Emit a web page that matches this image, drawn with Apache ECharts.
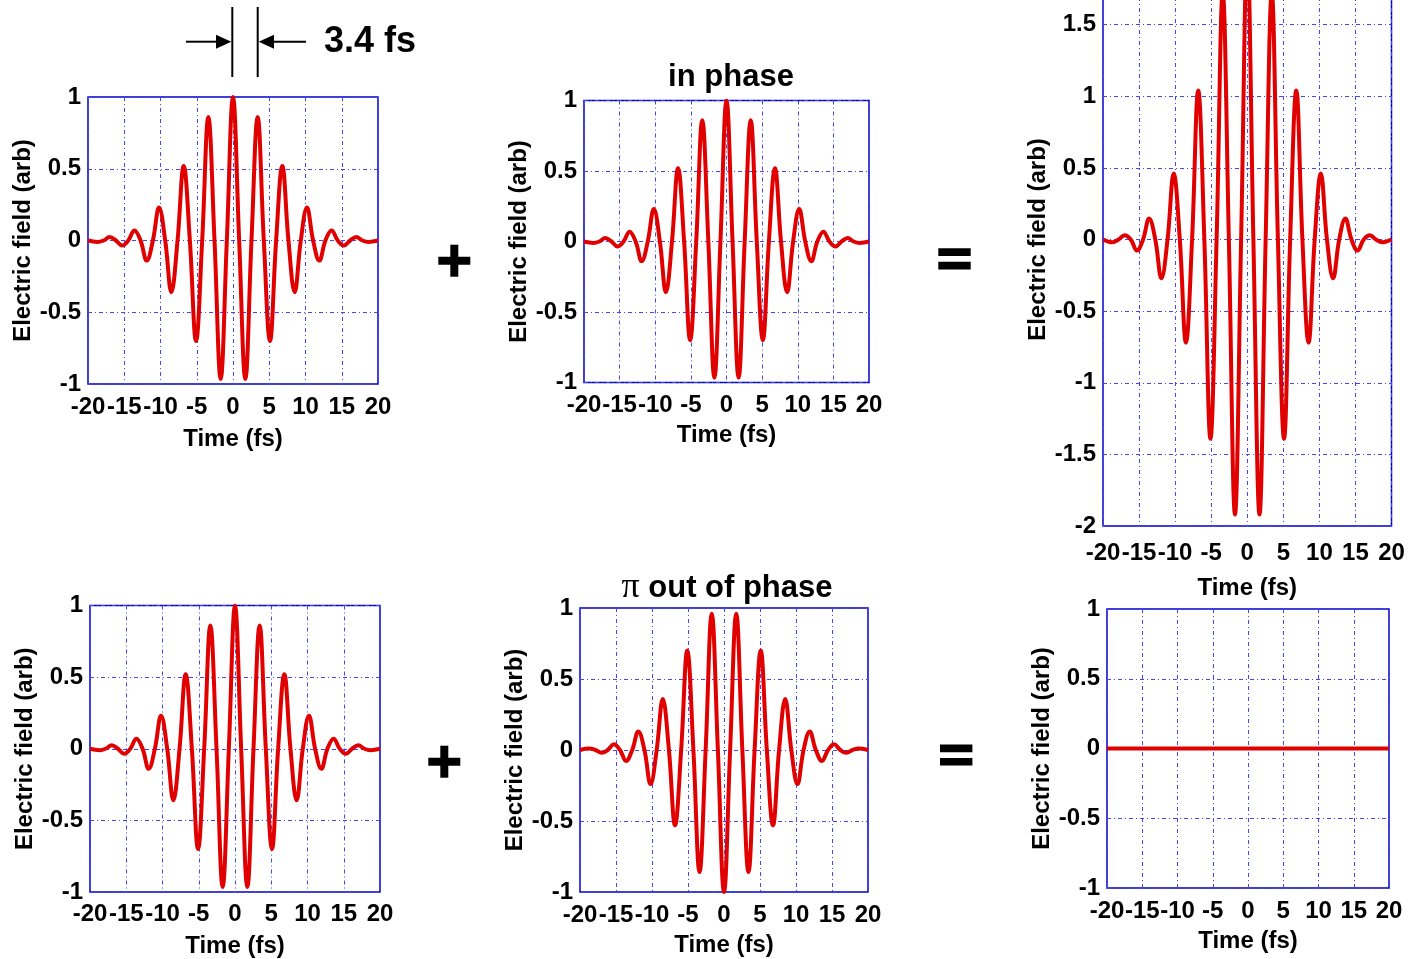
<!DOCTYPE html>
<html>
<head>
  <meta charset="utf-8">
  <title>Pulse interference</title>
  <script src="https://cdn.jsdelivr.net/npm/echarts/dist/echarts.min.js"></script>
  <style>
    html, body { margin: 0; padding: 0; background: #fff; overflow: hidden; }
    /* the top right panel runs above the page, so the canvas starts above it */
    #chart { position: absolute; left: 0; top: -60px; width: 1410px; height: 1019px; }
  </style>
</head>
<body>
<div id="chart"></div>
<script>
  // time samples (fs): extrema and zero crossings
  var time = [-20, -18.7, -17.85, -17, -16.15, -15.3, -14.45, -13.6, -12.75, -11.9, -11.05, -10.2,
    -9.35, -8.5, -7.65, -6.8, -5.95, -5.1, -4.25, -3.4, -2.55, -1.7, -0.85, 0,
    0.85, 1.7, 2.55, 3.4, 4.25, 5.1, 5.95, 6.8, 7.65, 8.5, 9.35, 10.2, 11.05, 11.9,
    12.75, 13.6, 14.45, 15.3, 16.15, 17, 17.85, 18.7, 20];

  // pulse shown left and middle top, and bottom left
  var pulseInPhase = [0, -0.01, 0, 0.025, 0, -0.035, 0, 0.07, 0, -0.14, 0, 0.23,
    0, -0.36, 0, 0.52, 0, -0.70, 0, 0.86, 0, -0.965, 0, 1.0,
    0, -0.965, 0, 0.86, 0, -0.70, 0, 0.52, 0, -0.36, 0, 0.23, 0, -0.14,
    0, 0.07, 0, -0.035, 0, 0.025, 0, -0.01, 0];

  // bottom middle pulse (pi out of phase)
  var pulseOutPhase = [0, 0.01, 0, -0.02, 0, 0.04, 0, -0.077, 0, 0.13, 0, -0.24,
    0, 0.36, 0, -0.53, 0, 0.70, 0, -0.86, 0, 0.96, 0, -1.0,
    0, 0.96, 0, -0.86, 0, 0.70, 0, -0.53, 0, 0.36, 0, -0.24, 0, 0.13,
    0, -0.077, 0, 0.04, 0, -0.02, 0, 0.01, 0];

  // top right: sum of the in-phase pulses
  var sumInPhase = [0, -0.02, 0, 0.03, 0, -0.077, 0, 0.147, 0, -0.27, 0, 0.46,
    0, -0.72, 0, 1.04, 0, -1.39, 0, 1.72, 0, -1.92, 0, 2.0,
    0, -1.92, 0, 1.72, 0, -1.39, 0, 1.04, 0, -0.72, 0, 0.46, 0, -0.27,
    0, 0.147, 0, -0.077, 0, 0.03, 0, -0.02, 0];

  // bottom right: the two cancel out
  var sumTime = [-20, 20];
  var sumOutPhase = [0, 0];

  var fieldTicks1 = {min: -1, max: 1, interval: 0.5};
  var fieldTicks2 = {min: -2, max: 2, interval: 0.5};

  var OFF = 60; // canvas is shifted up by this much
  var FONT = '"Liberation Sans", Arial, sans-serif';
  var AXIS_BLUE = '#0000c8';
  var GRID_BLUE = '#4646f0';

  var grids = [
    {left: 88, top: 97, width: 290, height: 287},
    {left: 584, top: 100.5, width: 285, height: 282},
    {left: 1103, top: -47, width: 288.5, height: 573},
    {left: 90, top: 605.5, width: 290, height: 288},
    {left: 580, top: 608, width: 288, height: 284},
    {left: 1107, top: 609, width: 282, height: 279}
  ];
  var labelMargins = [11, 11, 15, 10, 11, 11];
  var nameGaps = [43, 41, 50, 42, 41, 41];
  var yTicks = [fieldTicks1, fieldTicks1, fieldTicks2, fieldTicks1, fieldTicks1, fieldTicks1];

  function pairs(xs, ys) {
    return xs.map(function (x, i) { return [x, ys[i]]; });
  }

  var seriesData = [
    pairs(time, pulseInPhase),
    pairs(time, pulseInPhase),
    pairs(time, sumInPhase),
    pairs(time, pulseInPhase),
    pairs(time, pulseOutPhase),
    pairs(sumTime, sumOutPhase)
  ];

  var splitStyle = {show: true, lineStyle: {color: GRID_BLUE, width: 1, type: [4, 3, 1, 3]}};
  var labelFont = {color: '#000', fontFamily: FONT, fontWeight: 'bold', fontSize: 24};

  var option = {
    animation: false,
    backgroundColor: '#fff',
    grid: grids.map(function (g) {
      return {
        show: true, borderColor: AXIS_BLUE, borderWidth: 1.5, backgroundColor: 'transparent',
        left: g.left, top: g.top + OFF, width: g.width, height: g.height
      };
    }),
    xAxis: grids.map(function (g, i) {
      return {
        type: 'value', gridIndex: i, min: -20, max: 20, interval: 5,
        name: 'Time (fs)', nameLocation: 'middle', nameGap: nameGaps[i],
        nameTextStyle: labelFont,
        axisLine: {show: false}, axisTick: {show: false},
        splitLine: splitStyle,
        axisLabel: Object.assign({margin: labelMargins[i], showMinLabel: true, showMaxLabel: true}, labelFont)
      };
    }),
    yAxis: grids.map(function (g, i) {
      return {
        type: 'value', gridIndex: i,
        min: yTicks[i].min, max: yTicks[i].max, interval: yTicks[i].interval,
        name: 'Electric field (arb)', nameLocation: 'middle', nameGap: 52,
        nameTextStyle: labelFont,
        axisLine: {show: false}, axisTick: {show: false},
        splitLine: splitStyle,
        axisLabel: Object.assign({margin: 7, showMinLabel: true, showMaxLabel: true}, labelFont)
      };
    }),
    series: seriesData.map(function (d, i) {
      return {
        type: 'line', xAxisIndex: i, yAxisIndex: i, data: d,
        smooth: 0.4, showSymbol: false, clip: true,
        lineStyle: {color: '#e00000', width: 4}
      };
    }),
    graphic: [{
      type: 'group', x: 0, y: OFF,
      children: [
        {type: 'text', x: 731, y: 77, style: {text: 'in phase', fill: '#000', font: 'bold 31px ' + FONT, textAlign: 'center', textVerticalAlign: 'middle'}},
        {type: 'text', x: 727, y: 588, style: {
          text: '{pi|π} out of phase', fill: '#000', font: 'bold 31px ' + FONT, textAlign: 'center', textVerticalAlign: 'middle',
          rich: {pi: {fontFamily: '"Liberation Serif", serif', fontWeight: 'normal', fontSize: 36, fill: '#000'}}
        }},
        {type: 'text', x: 324, y: 42, style: {text: '3.4 fs', fill: '#000', font: 'bold 36px ' + FONT, textAlign: 'left', textVerticalAlign: 'middle'}},
        // period markers
        {type: 'line', shape: {x1: 232.3, y1: 7, x2: 232.3, y2: 77}, style: {stroke: '#000', lineWidth: 2}},
        {type: 'line', shape: {x1: 257.7, y1: 7, x2: 257.7, y2: 77}, style: {stroke: '#000', lineWidth: 2}},
        {type: 'line', shape: {x1: 186, y1: 41.7, x2: 218, y2: 41.7}, style: {stroke: '#000', lineWidth: 2}},
        {type: 'polygon', shape: {points: [[216, 34.7], [231.3, 41.7], [216, 48.7]]}, style: {fill: '#000'}},
        {type: 'line', shape: {x1: 306, y1: 41.7, x2: 272, y2: 41.7}, style: {stroke: '#000', lineWidth: 2}},
        {type: 'polygon', shape: {points: [[274, 34.7], [258.7, 41.7], [274, 48.7]]}, style: {fill: '#000'}},
        // plus signs
        {type: 'rect', shape: {x: 438.3, y: 256.8, width: 32, height: 8}, style: {fill: '#000'}},
        {type: 'rect', shape: {x: 450.3, y: 244.7, width: 8, height: 32}, style: {fill: '#000'}},
        {type: 'rect', shape: {x: 428.3, y: 757.7, width: 32, height: 8}, style: {fill: '#000'}},
        {type: 'rect', shape: {x: 440.3, y: 745.7, width: 8, height: 32}, style: {fill: '#000'}},
        // equals signs
        {type: 'rect', shape: {x: 938.3, y: 248.3, width: 32.4, height: 7.7}, style: {fill: '#000'}},
        {type: 'rect', shape: {x: 938.3, y: 261.7, width: 32.4, height: 7.7}, style: {fill: '#000'}},
        {type: 'rect', shape: {x: 940, y: 744.5, width: 32.4, height: 7.7}, style: {fill: '#000'}},
        {type: 'rect', shape: {x: 940, y: 757.9, width: 32.4, height: 7.7}, style: {fill: '#000'}}
      ]
    }]
  };

  var chart = echarts.init(document.getElementById('chart'), null, {renderer: 'canvas'});
  chart.setOption(option);
</script>
</body>
</html>
